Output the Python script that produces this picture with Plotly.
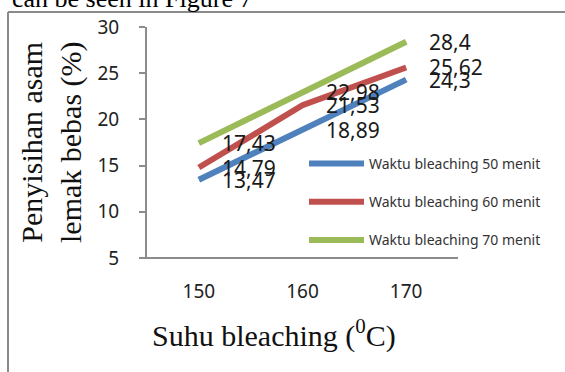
import plotly.graph_objects as go

categories = ["150", "160", "170"]
series_names = ["Waktu bleaching 50 menit", "Waktu bleaching 60 menit", "Waktu bleaching 70 menit"]
v50 = [13.47, 18.89, 24.3]
v60 = [14.79, 21.53, 25.62]
v70 = [17.43, 22.98, 28.4]
series_values = [v50, v60, v70]
colors = ["#4F81BD", "#C0504D", "#9BBB59"]

W, H = 565, 372
L, R, T, B = 147, 107, 27, 114
pw, ph = W - L - R, H - T - B

def px_x(p):
    return (p - L) / pw

def px_y(p):
    return (H - B - p) / ph

fig = go.Figure()
annotations = []
for i, (name, vals, col) in enumerate(zip(series_names, series_values, colors)):
    fig.add_trace(go.Scatter(
        x=categories, y=vals, mode="lines", name=name,
        line=dict(color=col, width=6), legendgroup=f"g{i}",
    ))
    for j, v in enumerate(vals):
        annotations.append(dict(
            x=j, y=v, xref="x", yref="y", text=f"{v:g}".replace(".", ","),
            showarrow=False, xanchor="left", yanchor="middle", xshift=21,
            font=dict(family="Noto Sans", size=21, color="#1a1a1a"),
        ))

annotations += [
    dict(x=px_x(274), y=px_y(333), xref="paper", yref="paper",
         text="Suhu bleaching (<sup>0</sup>C)", showarrow=False,
         xanchor="center", yanchor="middle",
         font=dict(family="Liberation Serif", size=30, color="#111")),
    dict(x=px_x(51), y=px_y(142), xref="paper", yref="paper",
         text="Penyisihan asam<br>lemak bebas (%)", showarrow=False, textangle=-90,
         xanchor="center", yanchor="middle",
         font=dict(family="Liberation Serif", size=30, color="#111")),
    dict(x=px_x(10), y=px_y(15), xref="paper", yref="paper",
         text="can be seen in Figure 7", showarrow=False,
         xanchor="left", yanchor="bottom",
         font=dict(family="Liberation Serif", size=26, color="#000")),
]

shapes = [
    dict(type="line", xref="paper", yref="paper", x0=px_x(8), x1=px_x(8),
         y0=px_y(12), y1=px_y(380), line=dict(color="#8a8a8a", width=2)),
    dict(type="line", xref="paper", yref="paper", x0=px_x(8), x1=px_x(570),
         y0=px_y(12), y1=px_y(12), line=dict(color="#8a8a8a", width=2)),
    dict(type="line", xref="paper", yref="paper", x0=px_x(139), x1=1,
         y0=0, y1=0, line=dict(color="#8c8c8c", width=2)),
]

fig.update_layout(
    width=W, height=H,
    margin=dict(l=L, r=R, t=T, b=B),
    paper_bgcolor="white", plot_bgcolor="white",
    showlegend=True,
    legend=dict(x=px_x(304), y=px_y(148), xanchor="left", yanchor="top",
                bgcolor="rgba(0,0,0,0)", tracegroupgap=17, itemwidth=55,
                font=dict(family="Noto Sans", size=14, color="#333")),
    annotations=annotations,
    shapes=shapes,
)
fig.update_xaxes(
    type="category", range=[-0.5, 2.5], showline=False, showgrid=False,
    zeroline=False, ticks="", ticklabelstandoff=20,
    tickfont=dict(family="Noto Sans", size=19, color="#222"),
)
fig.update_yaxes(
    range=[5, 30], dtick=5, tick0=5, showline=True, linecolor="#8c8c8c", linewidth=2,
    ticks="outside", ticklen=6, tickwidth=2, tickcolor="#8c8c8c",
    showgrid=False, zeroline=False, ticklabelstandoff=16,
    tickfont=dict(family="Noto Sans", size=19, color="#222"),
)

fig.write_html("out.html")
